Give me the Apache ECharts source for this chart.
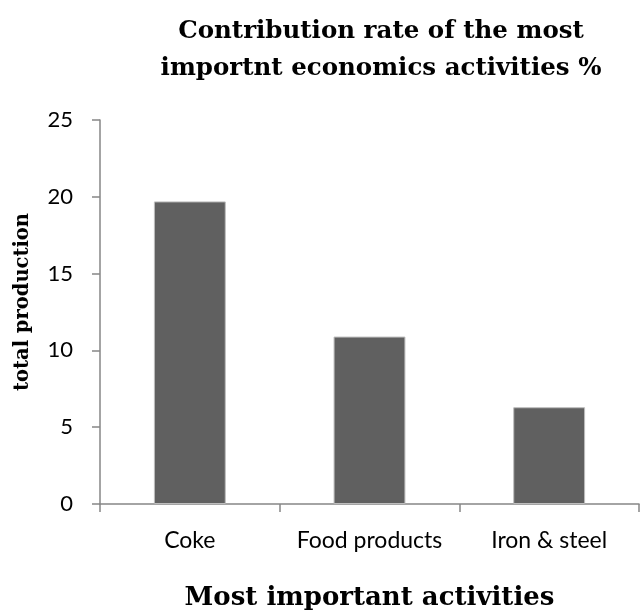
<!DOCTYPE html>
<html>
<head>
<meta charset="utf-8">
<script src="https://cdn.jsdelivr.net/npm/echarts@6/dist/echarts.min.js"></script>
<style>html,body{margin:0;padding:0;background:#fff}#c{width:644px;height:610px}</style>
</head>
<body>
<div id="c"></div>
<script>
const categories = ['Coke', 'Food products', 'Iron & steel'];
const values = [19.7, 10.9, 6.3];
const yTicks = [0, 5, 10, 15, 20, 25];

const chart = echarts.init(document.getElementById('c'), null, {renderer: 'canvas'});
chart.setOption({
  animation: false,
  backgroundColor: '#fff',
  title: {
    text: 'Contribution rate of the most\nimportnt economics activities %',
    left: 376, top: 8, textAlign: 'center',
    textStyle: {fontFamily: 'DejaVu Serif', fontWeight: 'bold', fontSize: 24.5, lineHeight: 37, color: '#000'}
  },
  grid: {left: 100, right: 5, top: 120, bottom: 106, containLabel: false, outerBoundsMode: 'none'},
  xAxis: {
    type: 'category', data: categories,
    name: 'Most important activities', nameLocation: 'middle', nameGap: 81,
    nameTextStyle: {fontFamily: 'DejaVu Serif', fontWeight: 'bold', fontSize: 26, color: '#000'},
    axisLine: {lineStyle: {color: '#868686', width: 1.5}},
    axisTick: {show: true, length: 8, interval: 0, alignWithLabel: false, lineStyle: {color: '#868686', width: 1.5}},
    axisLabel: {fontFamily: 'Lato', fontSize: 23, color: '#000', margin: 25, interval: 0, hideOverlap: false}
  },
  yAxis: {
    type: 'value', min: yTicks[0], max: yTicks[yTicks.length - 1], interval: 5,
    name: 'total production', nameLocation: 'middle', nameGap: 67, nameRotate: 90,
    nameTextStyle: {fontFamily: 'DejaVu Serif', fontWeight: 'bold', fontSize: 19.5, color: '#000', padding: [0, 0, 0, 20]},
    axisLine: {show: true, lineStyle: {color: '#868686', width: 1.5}},
    axisTick: {show: true, length: 8, lineStyle: {color: '#868686', width: 1.5}},
    axisLabel: {fontFamily: 'Lato', fontSize: 22, color: '#000', margin: 27},
    splitLine: {show: false}
  },
  series: [{
    type: 'bar', data: values, barWidth: '40%',
    itemStyle: {color: '#606060', borderColor: '#bdbdbd', borderWidth: 1}
  }]
});
</script>
</body>
</html>
